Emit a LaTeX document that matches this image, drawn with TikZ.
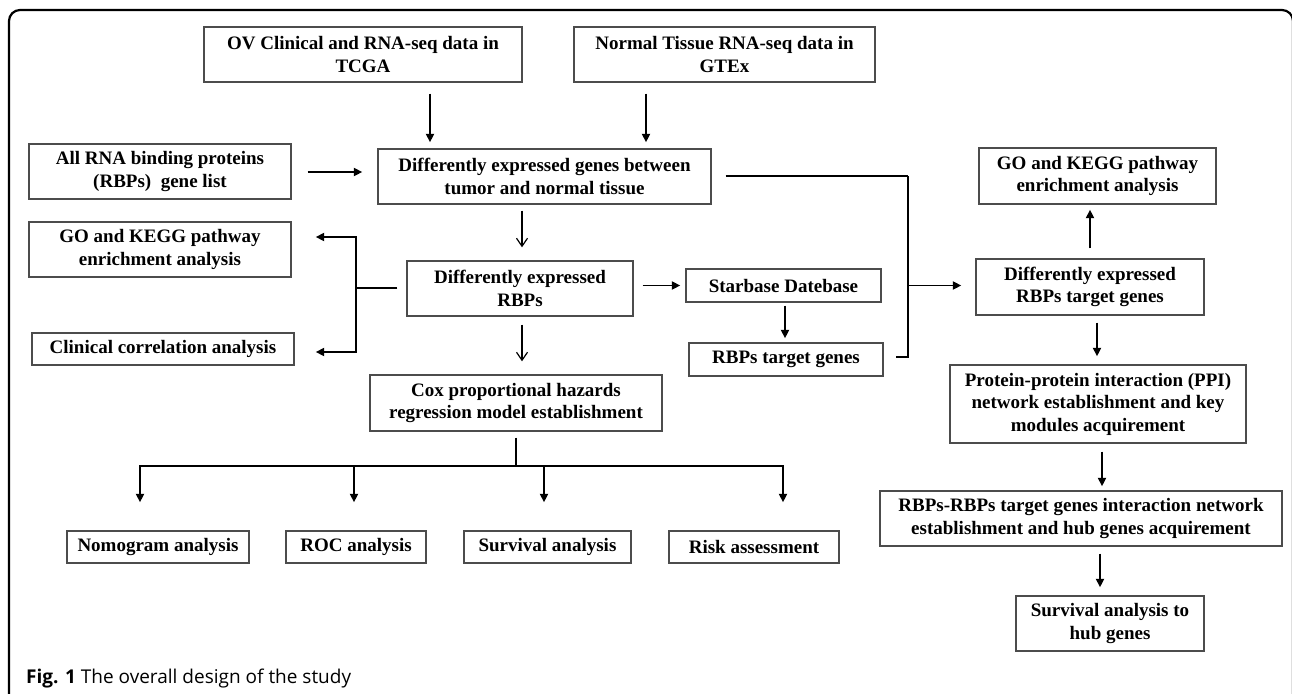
\documentclass[tikz,border=0pt]{standalone}
\usepackage{fontspec}
\setmainfont{Liberation Serif}
\newfontfamily\capfont{Open Sans}
\usetikzlibrary{arrows.meta}
\begin{document}
\begin{tikzpicture}[x=1pt,y=-1pt,
  box/.style={draw=black!70, line width=1.4pt, align=center, inner sep=0pt,
    font=\fontsize{19}{22.5}\selectfont\bfseries},
  ln/.style={line width=1.9pt},
  arr/.style={ln, -{Triangle[length=8.5pt,width=8pt]}},
  barb/.style={line width=1.2pt, -{Straight Barb[length=8pt,width=11pt]}}]
\useasboundingbox (0,0) rectangle (1292,693);
\draw[line width=2.2pt, rounded corners=11pt] (9,720) -- (9,10) -- (1293,10) -- (1293,720);

% boxes
\node[box, minimum width=318pt, minimum height=55pt] (ov) at (363,54.5) {OV Clinical and RNA-seq data in\\TCGA};
\node[box, minimum width=301pt, minimum height=55pt] (norm) at (724.5,54.5) {Normal Tissue RNA-seq data in\\GTEx};
\node[box, minimum width=262pt, minimum height=55pt] (allrna) at (160,171.5) {All RNA binding proteins\\(RBPs)\ \ gene list};
\node[box, minimum width=333pt, minimum height=55pt] (deg) at (544.5,176.5) {Differently expressed genes between\\tumor and normal tissue};
\node[box, minimum width=262pt, minimum height=55pt] (goL) at (160,249.5) {GO and KEGG pathway\\enrichment analysis};
\node[box, minimum width=226pt, minimum height=55pt] (derbp) at (520,288.5) {Differently expressed\\RBPs};
\node[box, minimum width=262pt, minimum height=32pt] (clin) at (163,349) {Clinical correlation analysis};
\node[box, minimum width=195pt, minimum height=33pt] (star) at (783.5,285.5) {Starbase Datebase};
\node[box, minimum width=194pt, minimum height=33pt] (rbptg) at (786,359.5) {RBPs target genes};
\node[box, minimum width=292pt, minimum height=56pt] (cox) at (516,403) {Cox proportional hazards\\regression model establishment};
\node[box, minimum width=182pt, minimum height=32pt] (nomo) at (158,547) {Nomogram analysis};
\node[box, minimum width=140pt, minimum height=32pt] (roc) at (356,547) {ROC analysis};
\node[box, minimum width=167pt, minimum height=32pt] (surv) at (547.5,547) {Survival analysis};
\node[box, minimum width=170pt, minimum height=32pt] (risk) at (754,547) {Risk assessment};
\node[box, minimum width=237pt, minimum height=56pt] (goR) at (1097.5,176) {GO and KEGG pathway\\enrichment analysis};
\node[box, minimum width=228pt, minimum height=56pt] (dert) at (1090,287) {Differently expressed\\RBPs target genes};
\node[box, minimum width=296pt, minimum height=78pt] (ppi) at (1098,404) {Protein-protein interaction (PPI)\\network establishment and key\\modules acquirement};
\node[box, minimum width=402pt, minimum height=55pt] (rr) at (1081,518.5) {RBPs-RBPs target genes interaction network\\establishment and hub genes acquirement};
\node[box, minimum width=188pt, minimum height=55pt] (survhub) at (1110,623.5) {Survival analysis to\\hub genes};

\node[anchor=base west, inner sep=0pt, font=\capfont\fontsize{19}{21}\selectfont] (cap) at (26,683) {\textbf{Fig. 1} The overall design of the study};

% helper coordinates
\coordinate (xA) at (430,0);
\coordinate (xB) at (646,0);
\coordinate (xC) at (522,0);
\coordinate (xD) at (785,0);
\coordinate (xE) at (1090,0);
\coordinate (xF) at (1097,0);
\coordinate (xG) at (1102,0);
\coordinate (xH) at (1100,0);
\coordinate (yR) at (0,172);
\coordinate (yG) at (0,237);
\coordinate (yCl) at (0,352);
\coordinate (yS) at (0,285.5);
\coordinate (yT) at (0,357);
\coordinate (br) at (356,288);
\coordinate (rt) at (908,176);
\coordinate (hub) at (516,466);
\coordinate (b1) at (140,466);
\coordinate (b2) at (354,466);
\coordinate (b3) at (544,466);
\coordinate (b4) at (783,466);

% connectors
\draw[arr, shorten <=11pt, shorten >=6pt] (ov.south -| xA) -- (deg.north -| xA);
\draw[arr, shorten <=11pt, shorten >=6pt] (norm.south -| xB) -- (deg.north -| xB);
\draw[arr, shorten <=16pt, shorten >=15pt] (allrna.east |- yR) -- (deg.west |- yR);
\draw[barb, shorten <=6pt, shorten >=13pt] (deg.south -| xC) -- (derbp.north -| xC);
\draw[ln, shorten <=9pt] (derbp.west |- br) -- (br);
\draw[arr, shorten >=24pt] (br) |- (goL.east |- yG);
\draw[arr, shorten >=21pt] (br) |- (clin.east |- yCl);
\draw[barb, shorten <=8pt, shorten >=13pt] (derbp.south -| xC) -- (cox.north -| xC);
\draw[arr, shorten <=9pt, shorten >=5pt] (derbp.east |- yS) -- (star.west |- yS);
\draw[arr, shorten <=3pt, shorten >=4pt] (star.south -| xD) -- (rbptg.north -| xD);
\draw[ln, shorten <=14pt] (deg.east |- rt) -- (rt);
\draw[ln, shorten >=12pt] (rt) |- (rbptg.east |- yT);
\draw[arr, shorten >=14pt] (rt |- yS) -- (dert.west |- yS);
\draw[arr, shorten <=10pt, shorten >=5pt] (dert.north -| xE) -- (goR.south -| xE);
\draw[arr, shorten <=7pt, shorten >=8pt] (dert.south -| xF) -- (ppi.north -| xF);
\draw[arr, shorten <=8pt, shorten >=4pt] (ppi.south -| xG) -- (rr.north -| xG);
\draw[arr, shorten <=7pt, shorten >=8pt] (rr.south -| xH) -- (survhub.north -| xH);
\draw[ln, shorten <=6pt] (cox.south -| hub) -- (hub);
\draw[arr, shorten >=28pt] (hub) -| (nomo.north -| b1);
\draw[arr, shorten >=28pt] (hub) -| (risk.north -| b4);
\draw[arr, shorten >=28pt] (b2) -- (roc.north -| b2);
\draw[arr, shorten >=28pt] (b3) -- (surv.north -| b3);
\end{tikzpicture}
\end{document}
